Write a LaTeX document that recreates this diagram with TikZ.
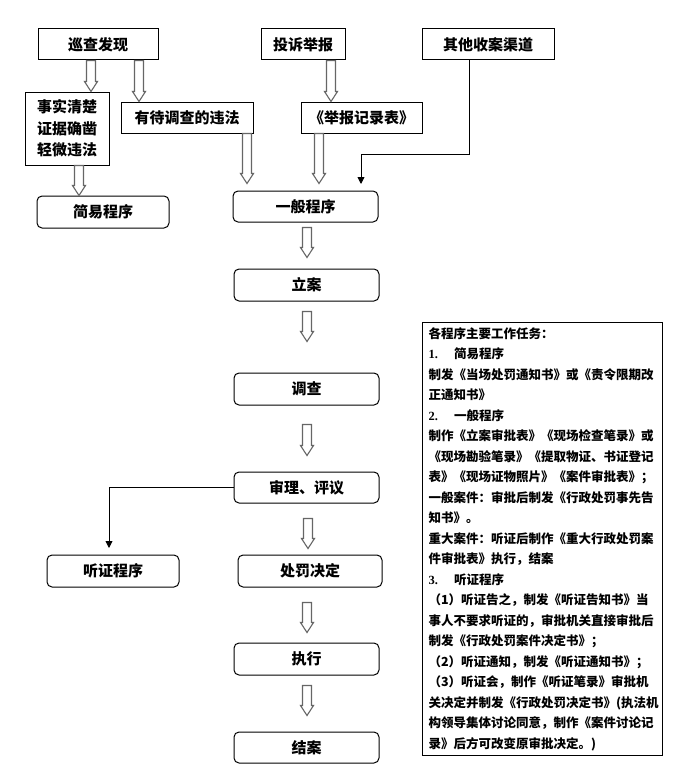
\documentclass[tikz,border=0pt]{standalone}
\usepackage{fontspec}
\setmainfont{Noto Sans CJK SC}
\newfontfamily\latinb{Liberation Serif}
\usetikzlibrary{arrows.meta,calc}
\newcommand\harrow[5]{\draw[hollow] let \p1=(#2), \p2=(#3) in
 (#1pt-4.5pt,\y1-#4pt) -- (#1pt-4.5pt,\y2+#5pt+10pt) -- (#1pt-6.5pt,\y2+#5pt+10pt) -- (#1pt,\y2+#5pt) -- (#1pt+6.5pt,\y2+#5pt+10pt) -- (#1pt+4.5pt,\y2+#5pt+10pt) -- (#1pt+4.5pt,\y1-#4pt) -- cycle;}
\begin{document}
\begin{tikzpicture}[x=1pt,y=-1pt,
  sqbox/.style={draw, line width=1pt, inner sep=0pt, align=center, font=\bfseries\fontsize{15}{21.5}\selectfont},
  rbox/.style={sqbox, rounded corners=5pt},
  hollow/.style={draw=black!60, fill=white, line width=1.1pt, line join=miter},
  blk/.style={draw, line width=0.9pt, -{Triangle[length=7pt,width=7pt]}}]
\useasboundingbox (0,0) rectangle (679,776);
% top row
\node[sqbox, minimum width=120pt, minimum height=31pt] (xc) at (98,44.5) {巡查发现};
\node[sqbox, minimum width=84pt, minimum height=31pt] (ts) at (303,44.5) {投诉举报};
\node[sqbox, minimum width=132pt, minimum height=31pt] (qt) at (488,44.5) {其他收案渠道};
% second row
\node[sqbox, minimum width=84pt, minimum height=73pt] (ss) at (67,128.5) {事实清楚\\证据确凿\\轻微违法};
\node[sqbox, minimum width=132pt, minimum height=31pt] (yd) at (187,117.5) {有待调查的违法};
\node[sqbox, minimum width=121pt, minimum height=31pt] (jb) at (361.5,117.5) {《举报记录表》};
% procedures
\node[rbox, minimum width=132pt, minimum height=32pt] (jy) at (103,212) {简易程序};
\node[rbox, minimum width=145pt, minimum height=31pt] (yb) at (305.5,206.5) {一般程序};
\node[rbox, minimum width=145pt, minimum height=32pt] (la) at (306.5,285) {立案};
\node[rbox, minimum width=145pt, minimum height=32pt] (dc) at (306.5,389) {调查};
\node[rbox, minimum width=145pt, minimum height=31pt] (sl) at (306.5,487.5) {审理、评议};
\node[rbox, minimum width=144pt, minimum height=32pt] (cf) at (310,571) {处罚决定};
\node[rbox, minimum width=132pt, minimum height=32pt] (tz) at (113,571) {听证程序};
\node[rbox, minimum width=145pt, minimum height=32pt] (zx) at (306.5,659) {执行};
\node[rbox, minimum width=145pt, minimum height=31pt] (ja) at (306.5,747.5) {结案};
% note
\node[draw, line width=1pt, anchor=north west, inner xsep=6pt, inner ysep=5pt, text width=228pt, align=left,
  font=\bfseries\fontsize{12.5}{20.5}\selectfont] (note) at (422,322) {%
各程序主要工作任务：\\
{\latinb 1.}\hspace{1.3em}简易程序\\
制发《当场处罚通知书》或《责令限期改\\
正通知书》\\
{\latinb 2.}\hspace{1.3em}一般程序\\
制作《立案审批表》《现场检查笔录》或\\
《现场勘验笔录》《提取物证、书证登记\\
表》《现场证物照片》《案件审批表》；\\
一般案件：审批后制发《行政处罚事先告\\
知书》。\\
重大案件：听证后制作《重大行政处罚案\\
件审批表》执行，结案\\
{\latinb 3.}\hspace{1.3em}听证程序\\
（1）听证告之，制发《听证告知书》当\\
事人不要求听证的，审批机关直接审批后\\
制发《行政处罚案件决定书》；\\
（2）听证通知，制发《听证通知书》；\\
（3）听证会，制作《听证笔录》审批机\\
关决定并制发《行政处罚决定书》(执法机\\
构领导集体讨论同意，制作《案件讨论记\\
录》后方可改变原审批决定。)};
% hollow arrows
\harrow{91}{xc.south}{ss.north}{0}{0}
\harrow{139}{xc.south}{yd.north}{0}{0}
\harrow{331}{ts.south}{jb.north}{0}{0}
\harrow{247}{yd.south}{yb.north}{0}{7}
\harrow{319}{jb.south}{yb.north}{0}{7}
\harrow{79}{ss.south}{jy.north}{0}{0}
\harrow{307}{yb.south}{la.north}{5}{11}
\harrow{307}{la.south}{dc.north}{10}{31}
\harrow{307}{dc.south}{sl.north}{19}{16}
\harrow{308}{sl.south}{cf.north}{15}{6}
\harrow{307}{cf.south}{zx.north}{15}{10}
\harrow{307}{zx.south}{ja.north}{10}{16}
% black arrows
\coordinate (t1) at (361,184);
\coordinate (t2) at (109,548);
\draw[blk] ($(qt.south)+(-19,0)$) -- ++(0,94) -| (t1);
\draw[blk] (sl.west) -| (t2);
\end{tikzpicture}
\end{document}
